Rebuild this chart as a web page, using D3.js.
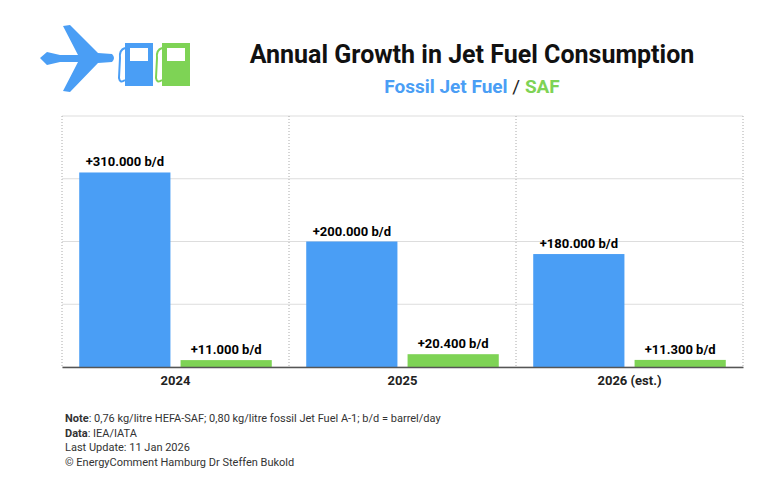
<!DOCTYPE html>
<html><head><meta charset="utf-8">
<script src="https://cdn.jsdelivr.net/npm/d3@7"></script>
<style>body{margin:0;background:#fff;font-family:Roboto,"Liberation Sans",sans-serif}</style>
</head><body><svg width="768" height="481"></svg>
<script>
const years = ['2024', '2025', '2026 (est.)'];
const fossil = [310000, 200000, 180000];
const saf = [11000, 20400, 11300];
const fossilLabels = ['+310.000 b/d', '+200.000 b/d', '+180.000 b/d'];
const safLabels = ['+11.000 b/d', '+20.400 b/d', '+11.300 b/d'];
const yTicks = [0, 100000, 200000, 300000, 400000];
const notes = [['Note', ': 0,76 kg/litre HEFA-SAF; 0,80 kg/litre fossil Jet Fuel A-1; b/d = barrel/day'],
  ['Data', ': IEA/IATA'], ['', 'Last Update: 11 Jan 2026'], ['', '© EnergyComment Hamburg Dr Steffen Bukold']];

const blue = '#4a9ef5', green = '#7ed355';
const svg = d3.select('svg');
const m = {l: 62, r: 743, t: 116, b: 367};

const x = d3.scaleBand().domain(years).range([m.l, m.r]);
const x1 = d3.scaleBand().domain(['f', 's']).range([0, x.bandwidth()]).paddingInner(0.1).paddingOuter(0.17);
const y = d3.scaleLinear().domain([0, 400000]).range([m.b, m.t]);

// grid
svg.append('g').selectAll('line').data(yTicks).join('line')
  .attr('x1', m.l).attr('x2', m.r).attr('y1', d => y(d)).attr('y2', d => y(d))
  .attr('stroke', '#ddd');
svg.append('g').selectAll('line').data([m.l, ...years.slice(1).map(d => x(d)), m.r]).join('line')
  .attr('x1', d => d).attr('x2', d => d).attr('y1', m.t).attr('y2', m.b)
  .attr('stroke', '#aaa').attr('stroke-dasharray', '1,2');

const g = svg.append('g').selectAll('g').data(years).join('g')
  .attr('transform', d => `translate(${x(d)},0)`);
g.append('rect').attr('x', x1('f')).attr('width', x1.bandwidth())
  .attr('y', (d, i) => y(fossil[i])).attr('height', (d, i) => m.b - y(fossil[i])).attr('fill', blue);
g.append('rect').attr('x', x1('s')).attr('width', x1.bandwidth())
  .attr('y', (d, i) => y(saf[i])).attr('height', (d, i) => m.b - y(saf[i])).attr('fill', green);
g.append('text').attr('x', x1('f') + x1.bandwidth() / 2).attr('y', (d, i) => y(fossil[i]) - 6)
  .attr('text-anchor', 'middle').attr('font-size', 13).attr('font-weight', 'bold').text((d, i) => fossilLabels[i]);
g.append('text').attr('x', x1('s') + x1.bandwidth() / 2).attr('y', (d, i) => y(saf[i]) - 6)
  .attr('text-anchor', 'middle').attr('font-size', 13).attr('font-weight', 'bold').text((d, i) => safLabels[i]);

svg.append('g').attr('transform', `translate(0,${m.b})`)
  .call(d3.axisBottom(x).tickSize(0).tickPadding(9))
  .call(a => a.select('.domain').attr('stroke', '#555').attr('stroke-width', 1.5))
  .call(a => a.selectAll('text').attr('font-size', 13).attr('font-weight', 'bold').attr('fill', '#222')
    .attr('font-family', 'Roboto, sans-serif'));

// titles
svg.append('text').attr('x', 472).attr('y', 63).attr('text-anchor', 'middle')
  .attr('font-size', 25).attr('font-weight', 'bold').attr('fill', '#111').text('Annual Growth in Jet Fuel Consumption');
const st = svg.append('text').attr('x', 472).attr('y', 93).attr('text-anchor', 'middle')
  .attr('font-size', 19).attr('font-weight', 'bold');
st.append('tspan').attr('fill', blue).text('Fossil Jet Fuel');
st.append('tspan').attr('fill', '#222').attr('font-weight', 'normal').text(' / ');
st.append('tspan').attr('fill', green).text('SAF');

// icons
svg.append('path').attr('fill', blue)
  .attr('d', 'M40,58 L47,52 L60,55 L78,55 L63,26 L70,25 L98,53 L112,54 Q116,58 112,62 L98,63 L70,92 L63,91 L78,62 L60,62 L47,65 Z');
[[125, blue], [162, green]].forEach(([px, c]) => {
  svg.append('rect').attr('x', px).attr('y', 43).attr('width', 28).attr('height', 43).attr('fill', c);
  svg.append('rect').attr('x', px + 5).attr('y', 48).attr('width', 18).attr('height', 13).attr('fill', '#fff');
  svg.append('path').attr('d', `M${px},48 Q${px - 6},50 ${px - 5},58 L${px - 6},78 Q${px - 5},84 ${px},80`)
    .attr('fill', 'none').attr('stroke', c).attr('stroke-width', 2);
});

// notes
const nt = svg.append('g').selectAll('text').data(notes).join('text')
  .attr('x', 65).attr('y', (d, i) => 422 + i * 14.5).attr('font-size', 11).attr('fill', '#333');
nt.append('tspan').attr('font-weight', 'bold').text(d => d[0]);
nt.append('tspan').text(d => d[1]);
</script></body></html>
